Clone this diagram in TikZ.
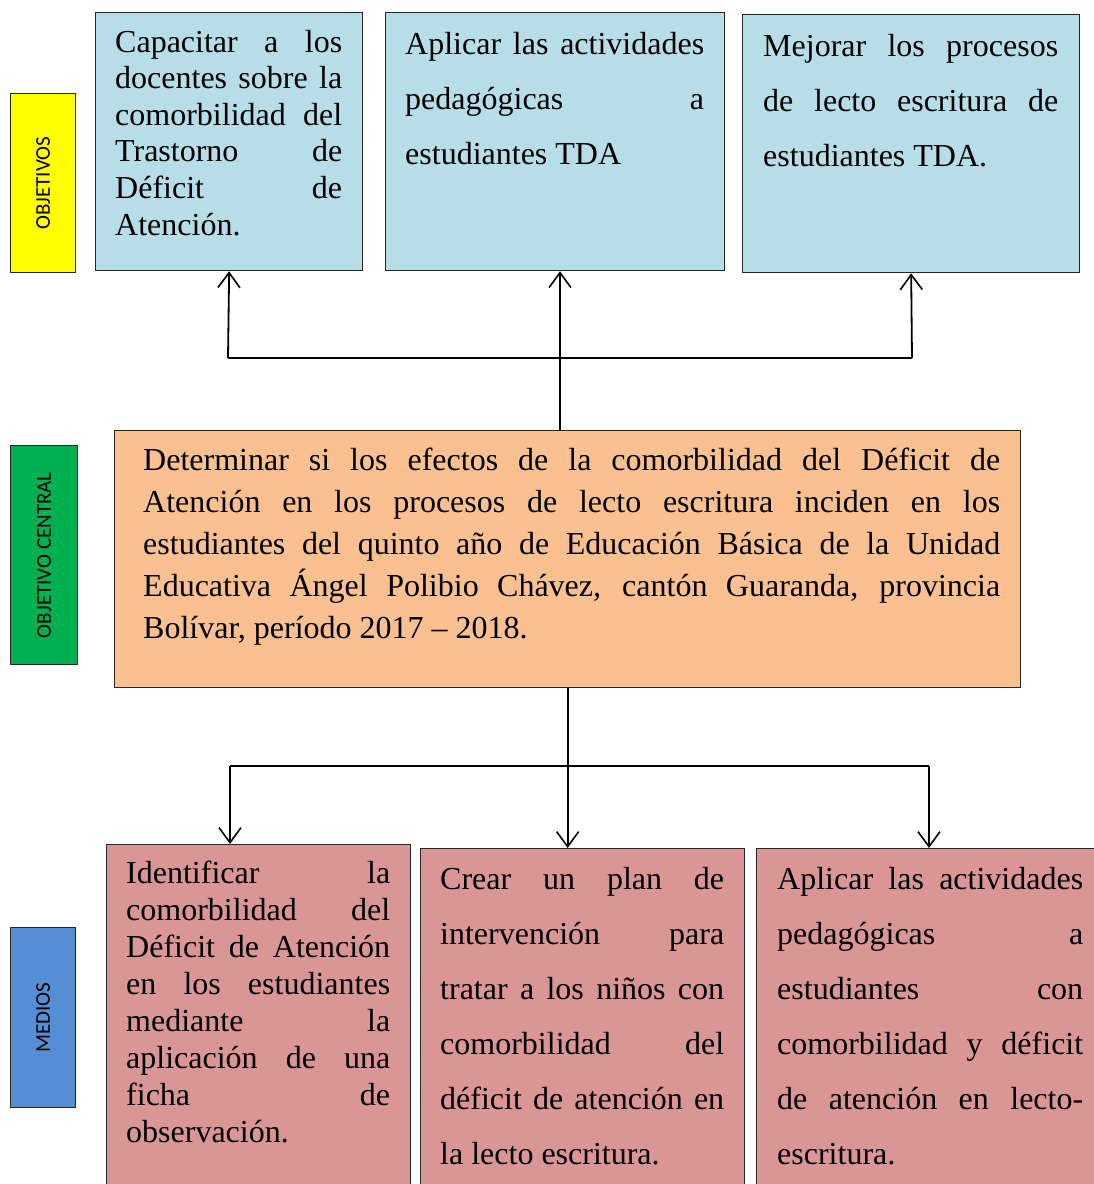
\documentclass[tikz,border=0pt]{standalone}
\usepackage{fontspec}
\setmainfont{Liberation Serif}
\newfontfamily\labfont{Carlito}
\usetikzlibrary{arrows.meta}
\definecolor{cblue}{HTML}{B7DEE8}
\definecolor{corange}{HTML}{FAC090}
\definecolor{cpink}{HTML}{D99694}
\definecolor{cyel}{HTML}{FFFF00}
\definecolor{cgreen}{HTML}{00B050}
\definecolor{cmed}{HTML}{558ED5}
\definecolor{cedge}{HTML}{262626}
\newcommand\jl[1]{\makebox[\linewidth][s]{#1}\par}
\newcommand\lastl[1]{\makebox[\linewidth][l]{#1}\par}
\newcommand\tbox[3]{\parbox[t]{#1}{\parindent=0pt\parskip=0pt\fontsize{32}{#2}\selectfont\lineskiplimit=-100pt\lineskip=0pt #3}}
\tikzset{
  boxst/.style={draw=cedge, line width=1.3pt, rectangle, inner sep=0pt, anchor=north west},
  labst/.style={boxst, text=black},
  labtxt/.style={rotate=90, inner sep=0pt, font=\labfont\fontsize{21}{23}\selectfont},
  txt/.style={inner sep=0pt, anchor=base west, text=black},
  conn/.style={draw=black, line width=1.8pt},
  arr/.style={conn, -{Straight Barb[length=15pt,width=22pt,line width=1.6pt]}}
}
\begin{document}
\begin{tikzpicture}[x=1pt,y=-1pt]
\useasboundingbox (0,0) rectangle (1094,1184);
\clip (0,0) rectangle (1094,1184);
\fill[white] (0,0) rectangle (1094,1184);
% side labels
\node[labst, fill=cyel, minimum width=65, minimum height=179] (lo) at (10,93) {};
\node[labtxt] (lot) at (lo.center) {OBJETIVOS};
\node[labst, fill=cgreen, minimum width=67, minimum height=219] (lc) at (10,445) {};
\node[labtxt] (lct) at (lc.center) {OBJETIVO CENTRAL};
\node[labst, fill=cmed, minimum width=65, minimum height=180] (lm) at (10,927) {};
\node[labtxt] (lmt) at (lm.center) {MEDIOS};
% objectives
\node[boxst, fill=cblue, minimum width=267, minimum height=258] (o1) at (95,12) {};
\node[boxst, fill=cblue, minimum width=339, minimum height=258] (o2) at (385,12) {};
\node[boxst, fill=cblue, minimum width=337, minimum height=258] (o3) at (742,14) {};
\node[txt] (o1t) at (115,52) {\tbox{227pt}{36.6pt}{%
\jl{Capacitar a los}\jl{docentes sobre la}\jl{comorbilidad del}\jl{Trastorno de}\jl{Déficit de}\lastl{Atención.}}};
\node[txt] (o2t) at (405,54) {\tbox{299pt}{55pt}{%
\jl{Aplicar las actividades}\jl{pedagógicas a}\lastl{estudiantes TDA}}};
\node[txt] (o3t) at (763,56) {\tbox{295pt}{55pt}{%
\jl{Mejorar los procesos}\jl{de lecto escritura de}\lastl{estudiantes TDA.}}};
% central
\node[boxst, fill=corange, minimum width=906, minimum height=257] (c) at (114,430) {};
\node[txt] (ct) at (143,470) {\tbox{857pt}{42pt}{%
\jl{Determinar si los efectos de la comorbilidad del Déficit de}%
\jl{Atención en los procesos de lecto escritura inciden en los}%
\jl{estudiantes del quinto año de Educación Básica de la Unidad}%
\jl{Educativa Ángel Polibio Chávez, cantón Guaranda, provincia}%
\lastl{Bolívar, período 2017 – 2018.}}};
% means
\node[boxst, fill=cpink, minimum width=304, minimum height=400] (m1) at (106,844) {};
\node[boxst, fill=cpink, minimum width=324, minimum height=400] (m2) at (420,848) {};
\node[boxst, fill=cpink, minimum width=360, minimum height=400] (m3) at (756,848) {};
\node[txt] (m1t) at (126,883) {\tbox{264pt}{37pt}{%
\jl{Identificar la}\jl{comorbilidad del}\jl{Déficit de Atención}\jl{en los estudiantes}%
\jl{mediante la}\jl{aplicación de una}\jl{ficha de}\lastl{observación.}}};
\node[txt] (m2t) at (440,889) {\tbox{284pt}{55pt}{%
\jl{Crear un plan de}\jl{intervención para}\jl{tratar a los niños con}\jl{comorbilidad del}%
\jl{déficit de atención en}\lastl{la lecto escritura.}}};
\node[txt] (m3t) at (777,889) {\tbox{306pt}{55pt}{%
\jl{Aplicar las actividades}\jl{pedagógicas a}\jl{estudiantes con}\jl{comorbilidad y déficit}%
\jl{de atención en lecto-}\lastl{escritura.}}};
% connectors top
\coordinate (hl) at (228,358);
\coordinate (hr) at (912,358);
\coordinate (hm) at (560,358);
\draw[conn] (hl) -- (hr);
\draw[arr] (hl) -- (o1.south);
\draw[arr] (hr) -- (o3.south);
\draw[arr] (c.north -| hm) -- (o2.south -| hm);
% connectors bottom
\coordinate (bl) at (230,766);
\coordinate (br) at (929,766);
\draw[conn] (bl) -- (br);
\draw[arr] (c.south) -- (c.south |- m2.north);
\draw[arr] (bl) -- (bl |- m1.north);
\draw[arr] (br) -- (br |- m3.north);
\end{tikzpicture}
\end{document}
